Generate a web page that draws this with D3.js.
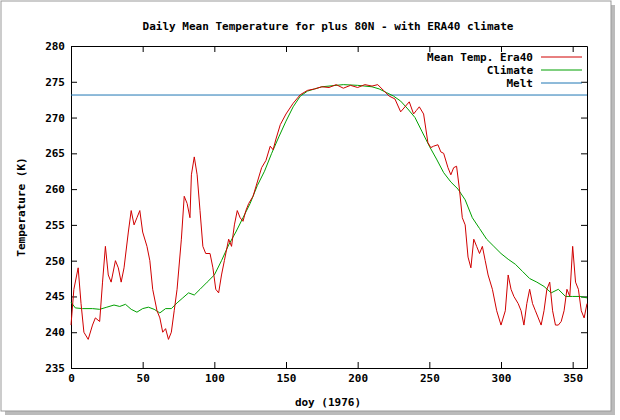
<!DOCTYPE html>
<html><head><meta charset="utf-8">
<script src="https://cdn.jsdelivr.net/npm/d3@7"></script>
<style>body{margin:0;background:#fff}text{font-family:"DejaVu Sans Mono",monospace;font-size:11px;font-weight:bold}</style>
</head><body>
<script>
var width = 620, height = 420;
var margin = {left: 71, right: 33, top: 46, bottom: 52};

// daily mean temperature 1976
var era = [[0,241],[2,246],[5,249],[7,244],[9,240],[12,239],[15,241],[17,242],[20,241.5],[22,247],[24,252],[26,248],[28,247],[31,250],[33,249],[35,247],[37,249],[40,254],[42,257],[44,255],[46,256],[48,257],[50,254],[53,252],[55,250],[57,246],[60,243],[62,242],[64,240],[66,240.5],[68,239],[70,240],[72,243],[74,246],[77,253],[79,259],[81,258],[83,256],[84,262],[86,264.5],[88,262],[90,257],[92,252],[94,251],[97,251],[99,249],[101,246],[103,245.5],[105,248],[107,250],[110,253],[112,252],[114,255],[116,257],[118,256],[120,255.5],[122,257],[124,258],[127,259],[130,261],[133,263],[136,264],[139,266],[141,265.5],[143,267],[146,269],[150,270.5],[155,272],[160,273.2],[165,273.8],[170,274],[175,274.3],[180,274.2],[185,274.6],[190,274.1],[195,274.5],[200,274.2],[205,274.6],[210,274.4],[214,274.6],[218,273.8],[222,273],[226,272.6],[230,270.8],[233,271.5],[236,272.2],[239,270.5],[241,271],[243,271.5],[246,270.5],[249,266.5],[251,265.8],[253,266],[256,266.2],[258,265.2],[260,265],[263,263],[265,262],[267,263],[269,263.2],[271,260],[273,256],[275,255],[277,250.5],[279,249],[281,253],[283,252],[285,251],[287,252],[289,250],[291,248],[294,246],[297,243],[300,241],[303,243],[305,248],[307,246],[309,245],[312,244],[314,243],[316,241],[318,244],[320,246],[322,244],[324,243],[326,242],[328,241],[330,243],[332,246],[334,247],[336,243],[338,241],[340,241],[342,241.5],[344,243],[346,246],[348,245],[350,252],[352,247],[354,246],[356,243],[358,242],[360,244]];

var climate = [[0,244.2],[3,243.4],[8,243.3],[15,243.3],[20,243.2],[25,243.5],[30,243.8],[34,243.6],[38,243.9],[42,243.2],[46,242.8],[50,243.3],[54,243.5],[58,243.2],[62,242.7],[66,243.3],[70,243.3],[74,244.1],[78,244.8],[82,245.5],[86,245.2],[90,246],[95,247],[100,248],[105,250],[110,252.2],[115,254],[120,256],[125,258],[130,260.5],[135,262.5],[140,265],[145,267.3],[150,269.5],[155,271.5],[160,273],[165,273.7],[170,274],[175,274.3],[180,274.4],[190,274.6],[200,274.5],[210,274.3],[215,274],[220,273.5],[225,273],[230,272.3],[235,271.2],[240,270],[245,268],[250,266],[255,264.2],[260,262.3],[265,261],[270,260],[275,258.5],[280,256],[285,254.5],[290,253],[295,252],[300,251],[305,250.2],[310,249.5],[315,248.5],[320,247.5],[325,247],[330,246.4],[335,245.5],[340,246],[345,245],[350,245],[355,245],[360,244.8]];

var melt = 273.15;

var svg = d3.select("body").append("svg")
    .attr("width", width)
    .attr("height", height);

// frame + shadow like the screenshot
svg.append("rect").attr("x", 5).attr("y", 5).attr("width", 610).attr("height", 410).attr("fill", "#bbb");
svg.append("rect").attr("x", 1).attr("y", 1).attr("width", 610).attr("height", 410).attr("fill", "#fff").attr("stroke", "#999");

var x = d3.scaleLinear().domain([0, 360]).range([margin.left, width - margin.right]);
var y = d3.scaleLinear().domain([235, 280]).range([height - margin.bottom, margin.top]);

svg.append("g").attr("transform", "translate(0," + y(235) + ")")
    .call(d3.axisBottom(x).tickValues(d3.range(0, 351, 50)).tickSizeInner(-6).tickSizeOuter(0).tickPadding(6));
svg.append("g").attr("transform", "translate(0," + y(280) + ")")
    .call(d3.axisTop(x).tickValues(d3.range(0, 351, 50)).tickSizeInner(-6).tickSizeOuter(0).tickFormat(""));
svg.append("g").attr("transform", "translate(" + x(0) + ",0)")
    .call(d3.axisLeft(y).tickValues(d3.range(235, 281, 5)).tickSizeInner(-6).tickSizeOuter(0).tickPadding(6));
svg.append("g").attr("transform", "translate(" + x(360) + ",0)")
    .call(d3.axisRight(y).tickValues(d3.range(235, 281, 5)).tickSizeInner(-6).tickSizeOuter(0).tickFormat(""));
svg.selectAll(".domain").attr("stroke", "#000");
svg.selectAll(".tick text").attr("fill", "#000").style("font-size", "11px");

var line = d3.line().x(function (d) { return x(d[0]); }).y(function (d) { return y(d[1]); });

svg.append("path").datum([[0, melt], [360, melt]]).attr("d", line).attr("fill", "none").attr("stroke", "#1f77b4").attr("stroke-width", 1);
svg.append("path").datum(climate).attr("d", line).attr("fill", "none").attr("stroke", "#00a000").attr("stroke-width", 1);
svg.append("path").datum(era).attr("d", line).attr("fill", "none").attr("stroke", "#d00000").attr("stroke-width", 1);

svg.append("text").attr("x", 328).attr("y", 30).attr("text-anchor", "middle").text("Daily Mean Temperature for plus 80N - with ERA40 climate");
svg.append("text").attr("x", 328).attr("y", 406).attr("text-anchor", "middle").text("doy (1976)");
svg.append("text").attr("transform", "translate(25," + y(257.5) + ")rotate(-90)").attr("text-anchor", "middle").text("Temperature (K)");

var legend = [["Mean Temp. Era40", "#d00000"], ["Climate", "#00a000"], ["Melt", "#1f77b4"]];
legend.forEach(function (d, i) {
    var ly = 57 + i * 13;
    svg.append("text").attr("x", 533).attr("y", ly + 4).attr("text-anchor", "end").text(d[0]);
    svg.append("line").attr("x1", 541).attr("x2", 582).attr("y1", ly).attr("y2", ly).attr("stroke", d[1]);
});
</script>
</body></html>
